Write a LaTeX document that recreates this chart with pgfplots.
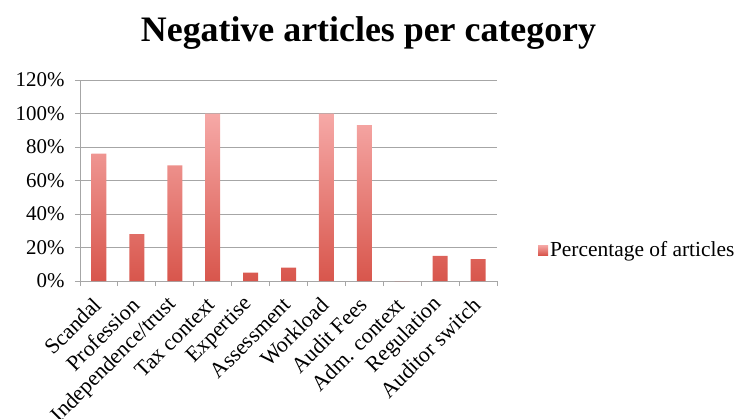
\documentclass[border=0pt]{standalone}
\usepackage{pgfplots}
\pgfplotsset{compat=1.18}
\usepackage{fontspec}
\setmainfont{Liberation Serif}

\definecolor{barTop}{HTML}{F6A9A7}
\definecolor{barBot}{HTML}{D8564C}
\definecolor{gridGray}{HTML}{A6A6A6}

\begin{document}
\begin{tikzpicture}
\useasboundingbox (-80bp,-138bp) rectangle (654bp,281bp);
\begin{axis}[
  scale only axis,
  width=417bp, height=201bp,
  xmin=-0.5, xmax=10.5,
  ymin=0, ymax=120,
  axis x line*=bottom,
  axis y line*=left,
  axis line style={gridGray, line width=0.9bp},
  xtick={0,...,10},
  xticklabels={Scandal,Profession,Independence/trust,Tax context,Expertise,Assessment,Workload,Audit Fees,Adm. context,Regulation,Auditor switch},
  minor xtick={-0.5,0.5,...,10.5},
  major x tick style={draw=none},
  minor x tick style={gridGray, line width=0.9bp},
  ytick={0,20,...,120},
  y tick style={gridGray, line width=0.9bp},
  tick align=outside,
  major tick length=5bp,
  minor tick length=5bp,
  ymajorgrids,
  grid style={gridGray, line width=0.9bp},
  /pgf/number format/assume math mode=true,
  yticklabel={\pgfmathprintnumber{\tick}\%},
  yticklabel style={font=\fontsize{21}{24}\selectfont, xshift=-7bp},
  xticklabel style={font=\fontsize{22}{24}\selectfont, xshift=1bp, yshift=-13bp, rotate=45, anchor=east},
  legend style={draw=none, fill=none, at={(rel axis cs:1.098,0.154)}, anchor=west,
    font=\fontsize{21.5}{24}\selectfont, inner sep=0pt},
  legend image code/.code={\shade[top color=barTop, bottom color=barBot] (0bp,-5bp) rectangle (10bp,5bp);},
]
\addplot[ybar, bar width=15bp, draw=none, top color=barTop, bottom color=barBot]
  coordinates {(0,76) (1,28) (2,69) (3,100) (4,5) (5,8) (6,100) (7,93) (8,0) (9,15) (10,13)};
\addlegendentry{Percentage of articles}
\end{axis}
\node[anchor=base, font=\fontsize{36}{40}\selectfont\bfseries] at (288.5bp,239bp) {Negative articles per category};
\end{tikzpicture}
\end{document}
